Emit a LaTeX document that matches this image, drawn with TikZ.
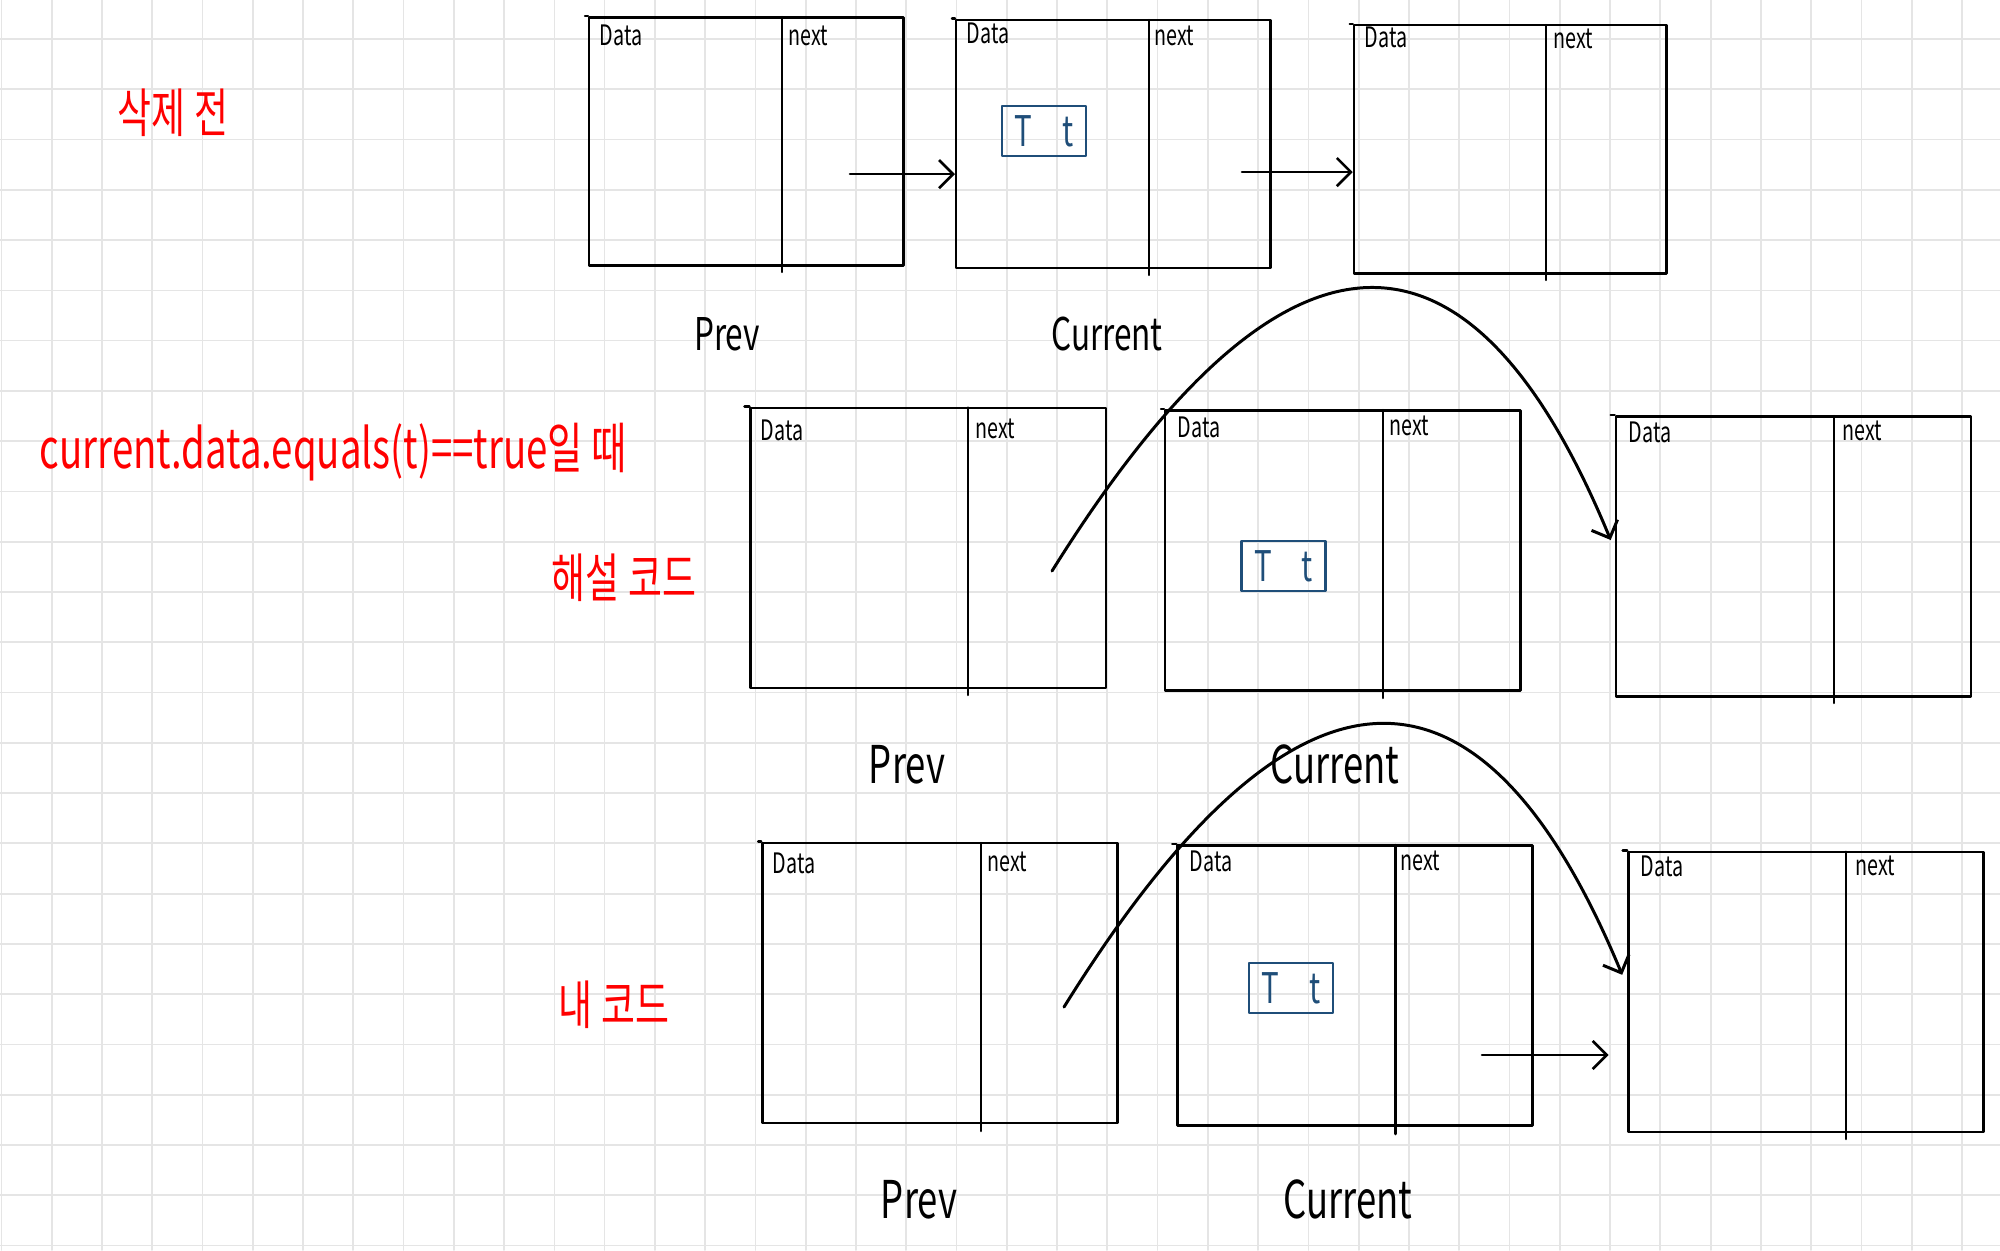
\documentclass[tikz,border=0pt]{standalone}
\usepackage{fontspec}
\newfontfamily\handfont{Noto Sans CJK KR}[FakeStretch=0.7]
\usetikzlibrary{arrows.meta}

\begin{document}
\begin{tikzpicture}[x=0.01cm, y=-0.01cm, line cap=round, line join=round,
  lnode/.style={draw, line width=0.7pt, minimum width=3.55cm, minimum height=2.8cm, inner sep=0pt},
  lnodetop/.style={lnode, minimum width=3.14cm, minimum height=2.48cm},
  fieldlbl/.style={font={\handfont\fontsize{8}{9}\selectfont}, anchor=base west, inner sep=0pt},
  varlbl/.style={font={\handfont\fontsize{14.8}{17}\selectfont}, anchor=base, inner sep=0pt},
  varlbltop/.style={varlbl, font={\handfont\fontsize{12.8}{15}\selectfont}},
  notelbl/.style={font={\handfont\fontsize{15}{17}\selectfont}, text=red, inner sep=0pt},
  valbox/.style={draw, line width=0.8pt, minimum width=0.84cm, minimum height=0.5cm, inner sep=0pt, font={\handfont\fontsize{12}{13}\selectfont}},
  link/.style={line width=0.75pt, -{Straight Barb[length=4pt, width=8pt]}}]
% Linked list deletion sketch on grid paper
\providecommand{\llGridLineColor}{black!10}
\providecommand{\llGridLineWidth}{0.5pt}
\useasboundingbox (0,0) rectangle (2000,1250);
\fill[white] (0,0) rectangle (2000,1250);
% Vertical lines
\begin{scope}[draw=\llGridLineColor, line width=\llGridLineWidth]
  \draw (1.4,0) -- (1.4,1250);
  \draw (51.7,0) -- (51.7,1250);
  \draw (101.9,0) -- (101.9,1250);
  \draw (152.2,0) -- (152.2,1250);
  \draw (202.5,0) -- (202.5,1250);
  \draw (252.8,0) -- (252.8,1250);
  \draw (303.0,0) -- (303.0,1250);
  \draw (353.3,0) -- (353.3,1250);
  \draw (403.6,0) -- (403.6,1250);
  \draw (453.8,0) -- (453.8,1250);
  \draw (504.1,0) -- (504.1,1250);
  \draw (554.4,0) -- (554.4,1250);
  \draw (604.6,0) -- (604.6,1250);
  \draw (654.9,0) -- (654.9,1250);
  \draw (705.2,0) -- (705.2,1250);
  \draw (755.5,0) -- (755.5,1250);
  \draw (805.7,0) -- (805.7,1250);
  \draw (856.0,0) -- (856.0,1250);
  \draw (906.3,0) -- (906.3,1250);
  \draw (956.5,0) -- (956.5,1250);
  \draw (1006.8,0) -- (1006.8,1250);
  \draw (1057.1,0) -- (1057.1,1250);
  \draw (1107.3,0) -- (1107.3,1250);
  \draw (1157.6,0) -- (1157.6,1250);
  \draw (1207.9,0) -- (1207.9,1250);
  \draw (1258.2,0) -- (1258.2,1250);
  \draw (1308.4,0) -- (1308.4,1250);
  \draw (1358.7,0) -- (1358.7,1250);
  \draw (1409.0,0) -- (1409.0,1250);
  \draw (1459.2,0) -- (1459.2,1250);
  \draw (1509.5,0) -- (1509.5,1250);
  \draw (1559.8,0) -- (1559.8,1250);
  \draw (1610.0,0) -- (1610.0,1250);
  \draw (1660.3,0) -- (1660.3,1250);
  \draw (1710.6,0) -- (1710.6,1250);
  \draw (1760.9,0) -- (1760.9,1250);
  \draw (1811.1,0) -- (1811.1,1250);
  \draw (1861.4,0) -- (1861.4,1250);
  \draw (1911.7,0) -- (1911.7,1250);
  \draw (1961.9,0) -- (1961.9,1250);
\end{scope}
% Horizontal lines
\begin{scope}[draw=\llGridLineColor, line width=\llGridLineWidth]
  \draw (0,39.0) -- (2000,39.0);
  \draw (0,89.3) -- (2000,89.3);
  \draw (0,139.5) -- (2000,139.5);
  \draw (0,189.8) -- (2000,189.8);
  \draw (0,240.1) -- (2000,240.1);
  \draw (0,290.4) -- (2000,290.4);
  \draw (0,340.6) -- (2000,340.6);
  \draw (0,390.9) -- (2000,390.9);
  \draw (0,441.2) -- (2000,441.2);
  \draw (0,491.4) -- (2000,491.4);
  \draw (0,541.7) -- (2000,541.7);
  \draw (0,592.0) -- (2000,592.0);
  \draw (0,642.2) -- (2000,642.2);
  \draw (0,692.5) -- (2000,692.5);
  \draw (0,742.8) -- (2000,742.8);
  \draw (0,793.1) -- (2000,793.1);
  \draw (0,843.3) -- (2000,843.3);
  \draw (0,893.6) -- (2000,893.6);
  \draw (0,943.9) -- (2000,943.9);
  \draw (0,994.1) -- (2000,994.1);
  \draw (0,1044.4) -- (2000,1044.4);
  \draw (0,1094.7) -- (2000,1094.7);
  \draw (0,1144.9) -- (2000,1144.9);
  \draw (0,1195.2) -- (2000,1195.2);
  \draw (0,1245.5) -- (2000,1245.5);
\end{scope}
% Red notes
\node[notelbl] (before) at (173,113) {삭제 전};
\node[notelbl, anchor=base west, font={\handfont\fontsize{15.6}{17}\selectfont}] (cond) at (39,468) {current.data.equals(t)==true일 때};
\node[notelbl] (solcode) at (624,578) {해설 코드};
\node[notelbl] (mycode) at (614,1005) {내 코드};
% Row 1: before deletion
\node[lnodetop] (a1) at (746.3,141.5) {};
\node[lnodetop] (b1) at (1113.3,144) {};
\node[lnodetop, minimum width=3.125cm] (c1) at (1510.3,149.2) {};
\begin{scope}[line width=0.7pt]
  \draw (782,17) -- (782,272);
  \draw (1149,20) -- (1149,275);
  \draw (1546,25) -- (1546,280);
  \draw (a1.north west) -- ++(-3,0);
  \draw (b1.north west) -- ++(-3,0);
  \draw (c1.north west) -- ++(-3,0);
\end{scope}
\node[fieldlbl] (a1data) at (599,45) {Data};
\node[fieldlbl] (a1next) at (788,45) {next};
\node[fieldlbl] (b1data) at (966,43) {Data};
\node[fieldlbl] (b1next) at (1154,45) {next};
\node[fieldlbl] (c1data) at (1364,47) {Data};
\node[fieldlbl] (c1next) at (1553,48) {next};
\node[varlbltop] (prev1) at (727,350) {Prev};
\node[varlbltop] (cur1) at (1107,350) {Current};
% Row 2: solution code
\node[lnode] (a2) at (928.3,547.8) {};
\node[lnode] (b2) at (1342.8,550.5) {};
\node[lnode] (c2) at (1793.5,556.5) {};
\begin{scope}[line width=0.7pt]
  \draw (968,407.5) -- (968,695);
  \draw (1383,410) -- (1383,698);
  \draw (1834,416) -- (1834,703);
  \draw (a2.north west) -- ++(-5,0);
  \draw (b2.north west) -- ++(-3,0);
  \draw (c2.north west) -- ++(-4,0);
\end{scope}
\node[fieldlbl] (a2data) at (760,440) {Data};
\node[fieldlbl] (a2next) at (975,438) {next};
\node[fieldlbl] (b2data) at (1177,437) {Data};
\node[fieldlbl] (b2next) at (1389,435) {next};
\node[fieldlbl] (c2data) at (1628,442) {Data};
\node[fieldlbl] (c2next) at (1842,440) {next};
\node[varlbl] (prev2) at (907,783) {Prev};
\node[varlbl] (cur2) at (1335,783) {Current};
% Row 3: my code
\node[lnode] (a3) at (940,983) {};
\node[lnode] (b3) at (1355.1,985.5) {};
\node[lnode] (c3) at (1806,991.8) {};
\begin{scope}[line width=0.7pt]
  \draw (981,843) -- (981,1131);
  \draw (1395.7,845) -- (1395.7,1134);
  \draw (1846,851.7) -- (1846,1139);
  \draw (a3.north west) -- ++(-3,0);
  \draw (b3.north west) -- ++(-4,0);
  \draw (c3.north west) -- ++(-4.5,0);
\end{scope}
\node[fieldlbl] (a3data) at (772,873) {Data};
\node[fieldlbl] (a3next) at (987,871) {next};
\node[fieldlbl] (b3data) at (1189,871) {Data};
\node[fieldlbl] (b3next) at (1400,870) {next};
\node[fieldlbl] (c3data) at (1640,876) {Data};
\node[fieldlbl] (c3next) at (1855,875) {next};
\node[varlbl] (prev3) at (919,1218) {Prev};
\node[varlbl] (cur3) at (1348,1218) {Current};
% Value to delete
\begin{scope}[draw={rgb,255:red,31;green,78;blue,121}, text={rgb,255:red,31;green,78;blue,121}]
  \node[valbox] (val1) at (1044,131) {T\hspace{0.7em}t};
  \node[valbox] (val2) at (1283.6,566) {T\hspace{0.7em}t};
  \node[valbox] (val3) at (1291,988) {T\hspace{0.7em}t};
\end{scope}
% Links
\coordinate (a1n) at (850,174);
\coordinate (b1n) at (1242,172);
\coordinate (a2n) at (1052,571);
\coordinate (a3n) at (1064,1007);
\coordinate (b3n) at (1482,1055);
\draw[link] (a1n) -- (b1.west |- a1n);
\draw[link] (b1n) -- (c1.west |- b1n);
\draw[link, line width=0.85pt] (a2n) .. controls (1281,204) and (1468,194) .. ([xshift=-0.04cm,yshift=0.165cm]c2.west);
\draw[link, line width=0.85pt] (a3n) .. controls (1292,640) and (1479,630) .. ([xshift=-0.05cm,yshift=0.17cm]c3.west);
\draw[link, shorten >=5.3pt] (b3n) -- (c3.west |- b3n);
\end{tikzpicture}
\end{document}
